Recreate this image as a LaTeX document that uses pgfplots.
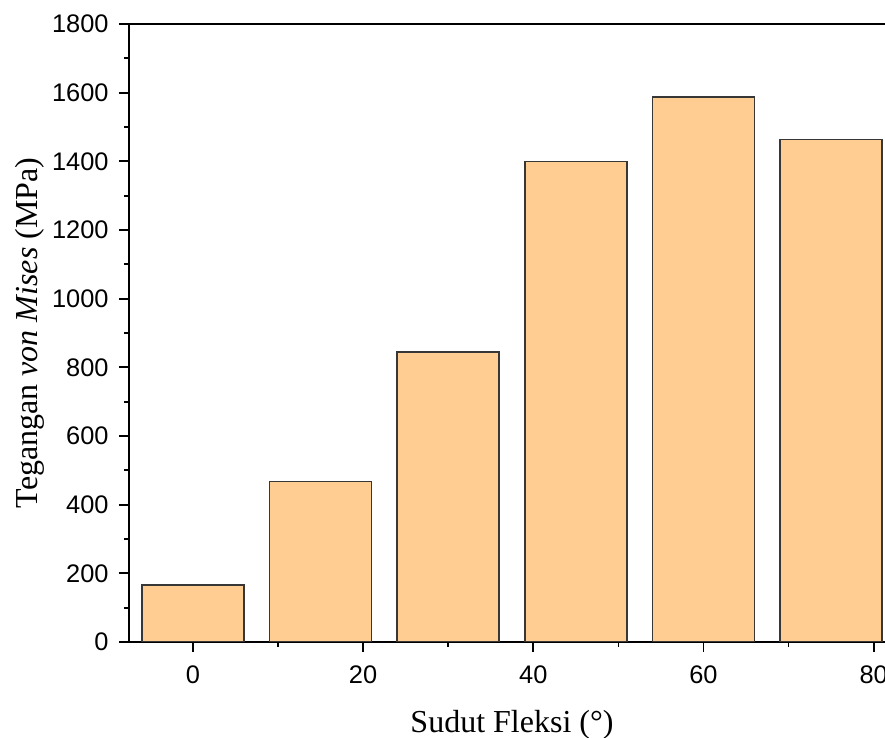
\documentclass[border=0pt]{standalone}
\usepackage{pgfplots}
\pgfplotsset{compat=1.18}
\usepackage{fontspec}
\setmainfont{Liberation Serif}
\newfontfamily\arialf{Liberation Sans}
\definecolor{barfill}{RGB}{255,204,146}
\definecolor{baredge}{RGB}{55,55,55}
\begin{document}
\begin{tikzpicture}
\begin{axis}[
  at={(64.5pt,48pt)}, anchor=south west,
  scale only axis, width=383pt, height=309pt,
  xmin=-7.5, xmax=82.5, ymin=0, ymax=1800,
  xtick={0,20,40,60,80}, ytick={0,200,...,1800},
  minor x tick num=1, minor y tick num=1,
  xtick pos=bottom, ytick pos=left,
  tick align=outside,
  major tick length=5pt, minor tick length=2.5pt,
  every tick/.style={black, line width=0.85pt},
  axis line style={black, line width=0.85pt},
  scaled ticks=false,
  /pgf/number format/1000 sep={},
  /pgf/number format/assume math mode=true,
  tick label style={font=\arialf\fontsize{12.7}{14}\selectfont},
  yticklabel style={anchor=east, inner sep=0pt, xshift=-5pt},
  xticklabel style={anchor=north, inner sep=0pt, yshift=-6.5pt},
  label style={font=\fontsize{16}{19}\selectfont},
  xlabel={Sudut Fleksi (°)},
  ylabel={Tegangan \textit{von Mises} (MPa)},
  xlabel style={at={(axis description cs:0.5,-0.1472)}, anchor=base},
  ylabel style={at={(axis description cs:-0.1201,0.5)}, anchor=base},
  ybar, bar width=12, bar shift=0pt,
]
\addplot[fill=barfill, draw=baredge, line width=0.8pt] coordinates {
  (0,166) (15,468) (30,844) (45,1400) (60,1588) (75,1464)
};
\end{axis}
\pgfresetboundingbox
\path[use as bounding box] (0,0) rectangle (442.5pt,369pt);
\end{tikzpicture}
\end{document}
